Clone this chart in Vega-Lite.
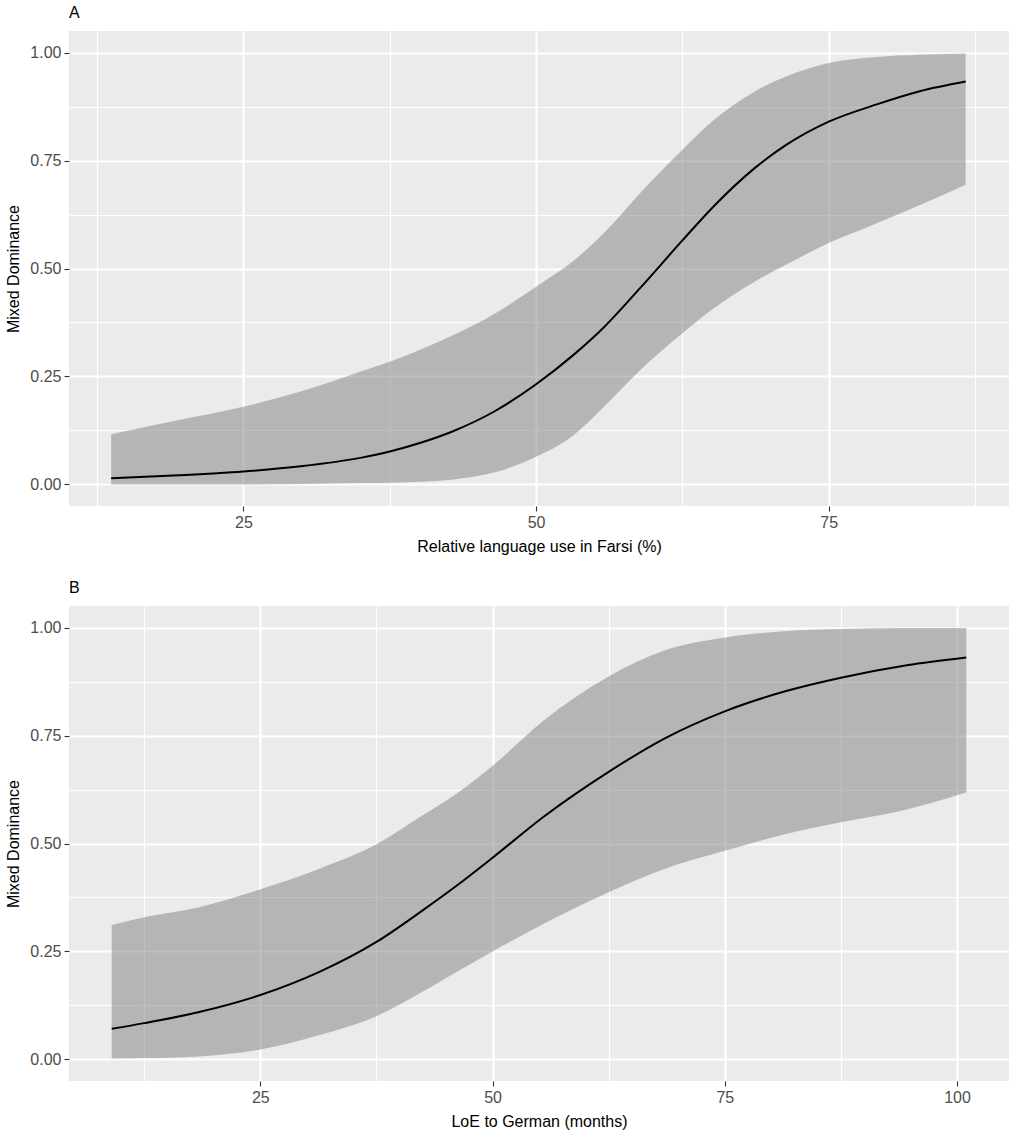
{
  "$schema": "https://vega.github.io/schema/vega-lite/v6.json",
  "background": "white",
  "padding": {"left": 5, "top": 5, "right": 2, "bottom": 5},
  "datasets": {
    "a": [
      {"x": 13.7, "fit": 0.014, "lower": 0.0, "upper": 0.116},
      {"x": 19.5, "fit": 0.021, "lower": 0.0, "upper": 0.149},
      {"x": 25.0, "fit": 0.030, "lower": 0.0, "upper": 0.180},
      {"x": 29.9, "fit": 0.042, "lower": 0.001, "upper": 0.215},
      {"x": 35.1, "fit": 0.062, "lower": 0.003, "upper": 0.262},
      {"x": 37.5, "fit": 0.076, "lower": 0.004, "upper": 0.284},
      {"x": 40.2, "fit": 0.097, "lower": 0.006, "upper": 0.313},
      {"x": 42.8, "fit": 0.122, "lower": 0.011, "upper": 0.344},
      {"x": 46.5, "fit": 0.170, "lower": 0.028, "upper": 0.396},
      {"x": 50.0, "fit": 0.232, "lower": 0.064, "upper": 0.458},
      {"x": 53.2, "fit": 0.300, "lower": 0.114, "upper": 0.518},
      {"x": 55.8, "fit": 0.364, "lower": 0.180, "upper": 0.582},
      {"x": 58.9, "fit": 0.455, "lower": 0.265, "upper": 0.675},
      {"x": 62.5, "fit": 0.565, "lower": 0.350, "upper": 0.775},
      {"x": 65.1, "fit": 0.642, "lower": 0.406, "upper": 0.842},
      {"x": 68.7, "fit": 0.733, "lower": 0.470, "upper": 0.910},
      {"x": 71.3, "fit": 0.785, "lower": 0.508, "upper": 0.944},
      {"x": 75.0, "fit": 0.840, "lower": 0.559, "upper": 0.976},
      {"x": 79.1, "fit": 0.880, "lower": 0.605, "upper": 0.990},
      {"x": 82.7, "fit": 0.910, "lower": 0.646, "upper": 0.995},
      {"x": 86.7, "fit": 0.933, "lower": 0.694, "upper": 0.998}
    ],
    "b": [
      {"x": 9.0, "fit": 0.071, "lower": 0.002, "upper": 0.311},
      {"x": 12.5, "fit": 0.084, "lower": 0.003, "upper": 0.329},
      {"x": 18.3, "fit": 0.109, "lower": 0.007, "upper": 0.352},
      {"x": 25.0, "fit": 0.149, "lower": 0.023, "upper": 0.394},
      {"x": 31.3, "fit": 0.202, "lower": 0.056, "upper": 0.441},
      {"x": 37.5, "fit": 0.272, "lower": 0.100, "upper": 0.498},
      {"x": 42.4, "fit": 0.344, "lower": 0.156, "upper": 0.564},
      {"x": 46.3, "fit": 0.405, "lower": 0.205, "upper": 0.618},
      {"x": 50.0, "fit": 0.467, "lower": 0.250, "upper": 0.680},
      {"x": 55.5, "fit": 0.562, "lower": 0.314, "upper": 0.785},
      {"x": 62.5, "fit": 0.666, "lower": 0.387, "upper": 0.887},
      {"x": 68.5, "fit": 0.743, "lower": 0.441, "upper": 0.947},
      {"x": 75.0, "fit": 0.806, "lower": 0.483, "upper": 0.977},
      {"x": 81.6, "fit": 0.853, "lower": 0.522, "upper": 0.992},
      {"x": 87.5, "fit": 0.884, "lower": 0.549, "upper": 0.997},
      {"x": 94.6, "fit": 0.913, "lower": 0.579, "upper": 0.999},
      {"x": 101.0, "fit": 0.931, "lower": 0.618, "upper": 0.999}
    ]
  },
  "spacing": 26,
  "vconcat": [
    {
      "width": 940,
      "height": 475,
      "title": {"text": "A"},
      "data": {"name": "a"},
      "layer": [
        {
          "mark": {"type": "area", "color": "#7F7F7F", "opacity": 0.5, "interpolate": "monotone"},
          "encoding": {
            "x": {
              "field": "x", "type": "quantitative",
              "title": "Relative language use in Farsi (%)",
              "scale": {"domain": [10.1, 90.4], "nice": false, "zero": false},
              "axis": {"values": [12.5, 25, 37.5, 50, 62.5, 75, 87.5]}
            },
            "y": {
              "field": "lower", "type": "quantitative",
              "title": "Mixed Dominance",
              "scale": {"domain": [-0.05, 1.05], "nice": false, "zero": false},
              "axis": {"values": [0, 0.125, 0.25, 0.375, 0.5, 0.625, 0.75, 0.875, 1], "format": ".2f",
                "labelExpr": "(datum.value * 4) % 1 == 0 ? datum.label : ''",
                "gridWidth": {"condition": {"test": "(datum.value * 4) % 1 != 0", "value": 1.1}, "value": 2.2},
                "tickColor": {"condition": {"test": "(datum.value * 4) % 1 != 0", "value": "transparent"}, "value": "#333333"}}
            },
            "y2": {"field": "upper"}
          }
        },
        {
          "mark": {"type": "line", "color": "black", "strokeWidth": 2, "interpolate": "monotone"},
          "encoding": {
            "x": {"field": "x", "type": "quantitative"},
            "y": {"field": "fit", "type": "quantitative"}
          }
        }
      ]
    },
    {
      "width": 940,
      "height": 475,
      "title": {"text": "B"},
      "data": {"name": "b"},
      "layer": [
        {
          "mark": {"type": "area", "color": "#7F7F7F", "opacity": 0.5, "interpolate": "monotone"},
          "encoding": {
            "x": {
              "field": "x", "type": "quantitative",
              "title": "LoE to German (months)",
              "scale": {"domain": [4.4, 105.6], "nice": false, "zero": false},
              "axis": {"values": [12.5, 25, 37.5, 50, 62.5, 75, 87.5, 100]}
            },
            "y": {
              "field": "lower", "type": "quantitative",
              "title": "Mixed Dominance",
              "scale": {"domain": [-0.05, 1.05], "nice": false, "zero": false},
              "axis": {"values": [0, 0.125, 0.25, 0.375, 0.5, 0.625, 0.75, 0.875, 1], "format": ".2f",
                "labelExpr": "(datum.value * 4) % 1 == 0 ? datum.label : ''",
                "gridWidth": {"condition": {"test": "(datum.value * 4) % 1 != 0", "value": 1.1}, "value": 2.2},
                "tickColor": {"condition": {"test": "(datum.value * 4) % 1 != 0", "value": "transparent"}, "value": "#333333"}}
            },
            "y2": {"field": "upper"}
          }
        },
        {
          "mark": {"type": "line", "color": "black", "strokeWidth": 2, "interpolate": "monotone"},
          "encoding": {
            "x": {"field": "x", "type": "quantitative"},
            "y": {"field": "fit", "type": "quantitative"}
          }
        }
      ]
    }
  ],
  "config": {
    "font": "Liberation Sans",
    "view": {"fill": "#EBEBEB", "stroke": null},
    "title": {"anchor": "start", "frame": "group", "fontSize": 16, "fontWeight": "normal", "color": "black", "offset": 10},
    "axis": {
      "domain": false,
      "grid": true,
      "gridColor": "white",
      "tickSize": 5,
      "tickWidth": 1.1,
      "labelFontSize": 16,
      "labelColor": "#4D4D4D",
      "labelPadding": 3,
      "titleFontSize": 16,
      "titleFontWeight": "normal",
      "titleColor": "black"
    },
    "axisX": {
      "labelExpr": "datum.value % 25 == 0 ? datum.label : ''",
      "gridWidth": {"condition": {"test": "datum.value % 25 != 0", "value": 1.1}, "value": 2.2},
      "tickColor": {"condition": {"test": "datum.value % 25 != 0", "value": "transparent"}, "value": "#333333"},
      "titlePadding": 8
    },
    "axisY": {"titlePadding": 8}
  }
}
